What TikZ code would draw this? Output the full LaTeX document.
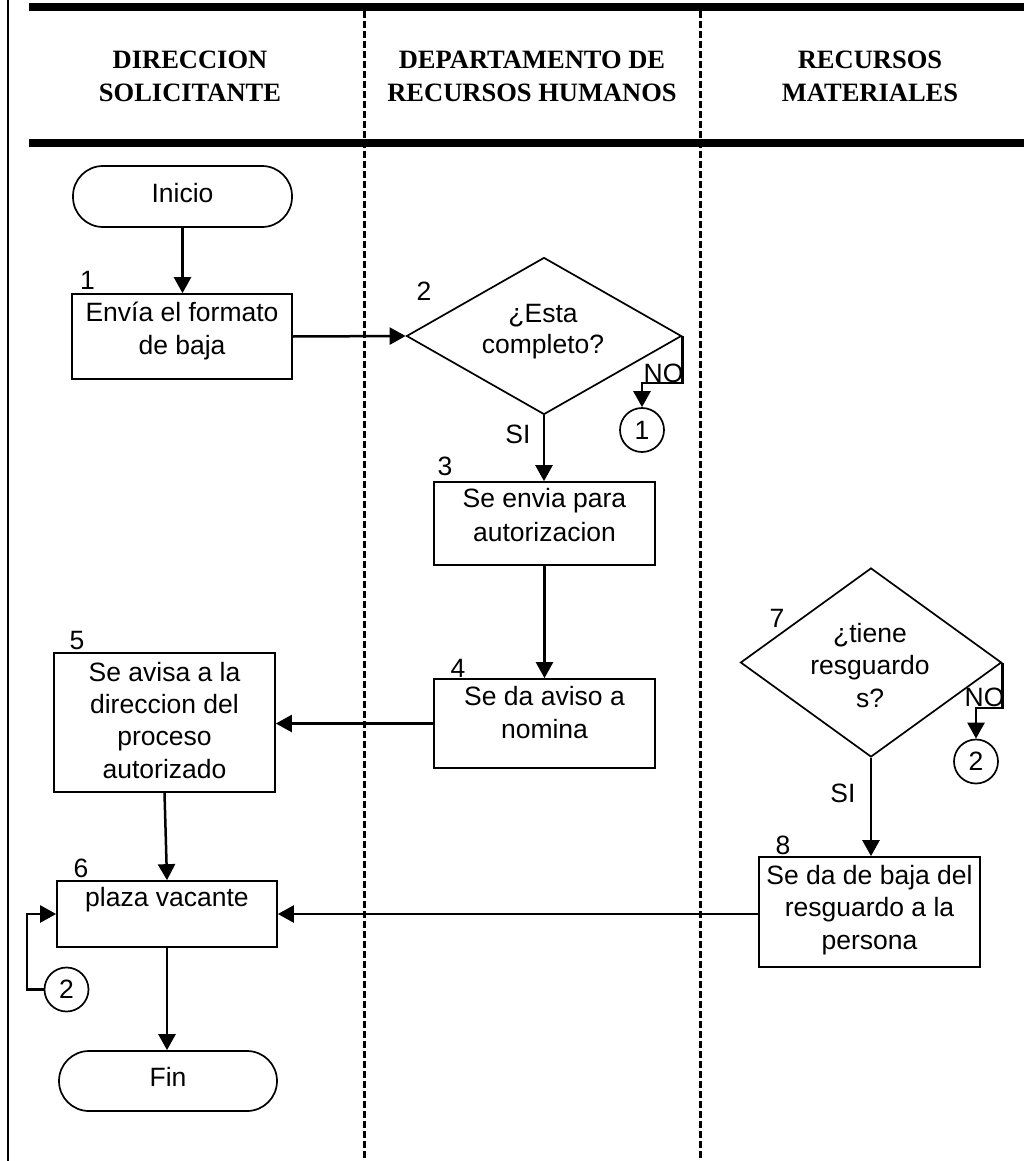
\documentclass[tikz,border=0pt]{standalone}
\usepackage{fontspec}
\setmainfont{Liberation Sans}
\newfontfamily\hdrfont{Liberation Serif}
\usetikzlibrary{arrows.meta,shapes.geometric}
\newcommand{\bodyf}{\fontsize{26.5}{33}\selectfont}
\newcommand{\fl}{\rule{0pt}{20pt}}
\newcommand{\hl}{\rule{0pt}{19pt}}

\begin{document}
\begin{tikzpicture}[x=1pt,y=-1pt,
  stepbox/.style={draw, line width=1.7pt, rectangle, inner sep=0pt},
  term/.style={draw, line width=1.7pt, rectangle, rounded corners=30pt,
    minimum width=219pt, minimum height=61pt, inner sep=0pt},
  decision/.style={draw, line width=1.7pt, diamond, inner sep=0pt},
  conn/.style={draw, line width=1.7pt, circle, minimum size=44pt,
    inner sep=0pt, font=\bodyf},
  txt/.style={inner sep=0pt, align=center, anchor=north, font=\bodyf},
  lbl/.style={inner sep=0pt, anchor=base, font=\bodyf},
  hdr/.style={inner sep=0pt, align=center, anchor=north,
    font=\hdrfont\bfseries\fontsize{26.5}{33}\selectfont},
  flow/.style={line width=2.5pt, -{Triangle[length=16pt,width=17pt]}},
  lane/.style={line width=3pt, dash pattern=on 7pt off 3pt},
]
\useasboundingbox (0,0) rectangle (1024,1161);

% swimlane frame
\draw[line width=1.7pt] (8,0) -- (8,1161);
\fill (29,3) rectangle (1024,11);
\fill (29,139) rectangle (1024,147);
\draw[lane] (364,11) -- (364,1161);
\draw[lane] (700,11) -- (700,1161);

% lane headers
\node[hdr] (h1) at (190,49) {\hl DIRECCION\\SOLICITANTE};
\node[hdr] (h2) at (532,49) {\hl DEPARTAMENTO DE\\RECURSOS HUMANOS};
\node[hdr] (h3) at (870,49) {\hl RECURSOS\\MATERIALES};

% shapes
\node[term] (start) at (182.5,196.5) {};
\node[lbl] (startt) at (182.5,202) {Inicio};

\node[stepbox, minimum width=220pt, minimum height=85pt] (b1) at (182,336.5) {};
\node[txt] (b1t) at (182,301) {\fl Envía el formato\\de baja};
\node[lbl] (n1) at (87.5,289) {1};

\node[decision, minimum width=275pt, minimum height=157pt] (d2) at (544,336) {};
\node[txt, font=\fontsize{26.5}{31}\selectfont] (d2t) at (543,302) {\fl ¿Esta\\completo?};
\node[lbl] (n2) at (424,300) {2};
\node[conn] (c1) at (642,430) {1};
\node[lbl] (no1) at (663.5,382) {NO};
\node[lbl] (si1) at (518,443) {SI};

\node[stepbox, minimum width=221pt, minimum height=83pt] (b3) at (544.5,523.5) {};
\node[txt, font=\fontsize{26.5}{34}\selectfont] (b3t) at (544.5,487) {\fl Se envia para\\autorizacion};
\node[lbl] (n3) at (445,475) {3};

\node[stepbox, minimum width=221pt, minimum height=89pt] (b4) at (544.5,723.5) {};
\node[txt] (b4t) at (544.5,685) {\fl Se da aviso a\\nomina};
\node[lbl] (n4) at (458,677) {4};

\node[stepbox, minimum width=221pt, minimum height=139pt] (b5) at (164.5,722.5) {};
\node[txt, font=\fontsize{26.5}{32.3}\selectfont] (b5t) at (164.5,661)
  {\fl Se avisa a la\\direccion del\\proceso\\autorizado};
\node[lbl] (n5) at (77,649) {5};

\node[stepbox, minimum width=220pt, minimum height=66pt] (b6) at (167,914) {};
\node[lbl] (b6t) at (167,906) {plaza vacante};
\node[lbl] (n6) at (81,877) {6};
\node[conn] (c2b) at (66.5,989.5) {2};

\node[term, minimum width=218pt, minimum height=60pt] (fin) at (168,1081) {};
\node[lbl] (fint) at (168,1086) {Fin};

\node[decision, minimum width=261pt, minimum height=189pt] (d7) at (871,662.5) {};
\node[txt, font=\fontsize{26.5}{32.5}\selectfont] (d7t) at (870,622) {\fl ¿tiene\\resguardo\\s?};
\node[lbl] (n7) at (777,627) {7};
\node[conn] (c2a) at (976,761.5) {2};
\node[lbl] (no2) at (984.5,706) {NO};
\node[lbl] (si2) at (843,802) {SI};

\node[stepbox, minimum width=221pt, minimum height=110pt] (b8) at (869.5,912) {};
\node[txt, font=\fontsize{26.5}{32.5}\selectfont] (b8t) at (869.5,864)
  {\fl Se da de baja del\\resguardo a la\\persona};
\node[lbl] (n8) at (783,854) {8};

% connectors
\draw[flow] (start.south) -- (start.south |- b1.north);
\draw[flow] (b1.east) -- (d2.west);
\draw[flow] (d2.east) -- ++(0,47) -| (c1.north);
\draw[flow] (d2.south) -- (d2.south |- b3.north);
\draw[flow] (b3.south) -- (b4.north);
\draw[flow] (b4.west) -- (b4.west -| b5.east);
\draw[flow] (b5.south) -- (b6.north);
\draw[flow] (b8.west |- b6.east) -- (b6.east);
\draw[flow] (c2b.west) -- ++(-16.5,0) |- (b6.west);
\draw[flow] (b6.south) -- (b6.south |- fin.north);
\draw[flow] (d7.east) -- ++(0,45.5) -| (c2a.north);
\draw[flow] (d7.south) -- (d7.south |- b8.north);
\end{tikzpicture}
\end{document}
